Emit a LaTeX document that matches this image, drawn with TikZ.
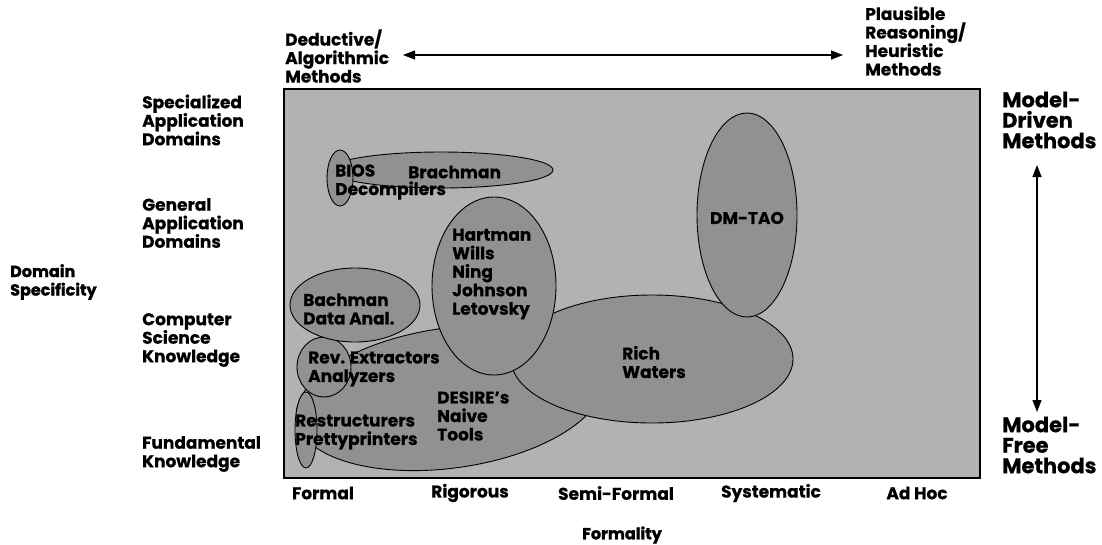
\documentclass[tikz,border=0pt]{standalone}
\usepackage{fontspec}
\setmainfont{Poppins}[BoldFeatures={FakeBold=0.6}]
\newfontfamily\heavyfont{Poppins}[BoldFeatures={FakeBold=1.6}]
\usetikzlibrary{arrows.meta,shapes.geometric}
\definecolor{bg}{gray}{0.70}
\definecolor{ell}{gray}{0.57}
\begin{document}
\begin{tikzpicture}[x=1pt,y=-1pt,
  lbl/.style={font=\bfseries\fontsize{17}{18.5}\selectfont, align=left, inner sep=0pt, anchor=west},
  big/.style={font=\bfseries\fontsize{21}{20.5}\selectfont, align=left, inner sep=0pt, anchor=west},
  axislbl/.style={font=\heavyfont\bfseries\fontsize{16}{18.5}\selectfont, align=left, inner sep=0pt},
  blob/.style={ellipse, fill=ell, draw=black, line width=0.9pt, inner sep=0pt},
  arr/.style={line width=1.3pt, {Triangle[length=12pt,width=9pt]}-{Triangle[length=12pt,width=9pt]}}
]
\useasboundingbox (0,0) rectangle (1102,544);
\node[draw=black, line width=1.5pt, fill=bg, minimum width=696pt, minimum height=389pt, anchor=north west, inner sep=0pt] (field) at (283,88) {};

% ellipses, back to front
\node[blob, minimum width=310pt, minimum height=140pt, rotate=8] (eDesire) at (450,398) {};
\node[blob, minimum width=282pt, minimum height=128pt] (eRich) at (652,359) {};
\node[blob, minimum width=124pt, minimum height=178pt] (eHart) at (494,286) {};
\node[blob, minimum width=100pt, minimum height=204pt] (eDm) at (747,215) {};
\node[blob, minimum width=54pt, minimum height=60pt] (eRev) at (324,367) {};
\node[blob, minimum width=130pt, minimum height=74pt] (eBach) at (355,305) {};
\node[blob, minimum width=22pt, minimum height=76pt] (eRestr) at (306,430) {};
\node[blob, minimum width=224pt, minimum height=36pt] (eBrach) at (441,170) {};
\node[blob, minimum width=26pt, minimum height=56pt] (eBios) at (340,178) {};

% texts inside
\node[lbl] (bios) at (335,182) {BIOS\\Decompilers};
\node[lbl] (brach) at (408,172) {Brachman};
\node[lbl] (hart) at (452,274) {Hartman\\Wills\\Ning\\Johnson\\Letovsky};
\node[lbl] (bach) at (303,309) {Bachman\\Data Anal.};
\node[lbl] (rev) at (308,369) {Rev. Extractors\\Analyzers};
\node[lbl] (desire) at (437,416) {DESIRE's\\Naive\\Tools};
\node[lbl] (restr) at (295,432) {Restructurers\\Prettyprinters};
\node[lbl, anchor=center] (dmtao) at (747,218) {DM-TAO};
\node[lbl] (rich) at (622,362) {Rich\\Waters};

% left labels
\node[lbl] (spec) at (142,120) {Specialized\\Application\\Domains};
\node[lbl] (gen) at (142,223) {General\\Application\\Domains};
\node[lbl] (csk) at (142,340) {Computer\\Science\\Knowledge};
\node[lbl] (fund) at (142,454) {Fundamental\\Knowledge};
\node[axislbl, anchor=west] (dom) at (10,282) {Domain\\Specificity};

% top labels
\node[lbl] (ded) at (285,56) {Deductive/\\Algorithmic\\Methods};
\node[lbl] (pla) at (865,41) {Plausible\\Reasoning/\\Heuristic\\Methods};

% right labels
\node[big] (mdr) at (1002,120) {Model-\\Driven\\Methods};
\node[big] (mfr) at (1002,445) {Model-\\Free\\Methods};

% bottom labels
\node[lbl, anchor=center] (f1) at (323,493) {Formal};
\node[lbl, anchor=center] (f2) at (470,493) {Rigorous};
\node[lbl, anchor=center] (f3) at (616,493) {Semi-Formal};
\node[lbl, anchor=center] (f4) at (771,493) {Systematic};
\node[lbl, anchor=center] (f5) at (917,493) {Ad Hoc};
\node[axislbl, anchor=center] (formality) at (622,535) {Formality};

% arrows
\coordinate (hl) at (403,55);
\coordinate (hr) at (843,55);
\draw[arr] (hl) -- (hr);
\coordinate (vt) at (1037,165);
\coordinate (vb) at (1037,412);
\draw[arr] (vt) -- (vb);
\end{tikzpicture}
\end{document}
